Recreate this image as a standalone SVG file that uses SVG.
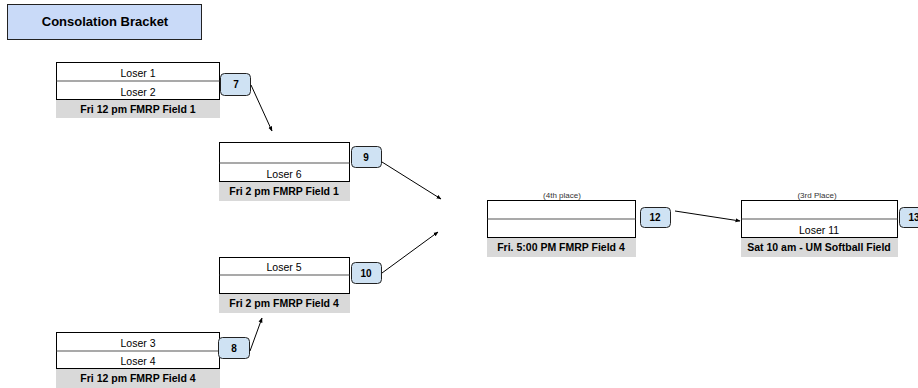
<svg xmlns="http://www.w3.org/2000/svg" width="918" height="388" viewBox="0 0 918 388">
<style>
text{font-family:"Liberation Sans",Arial,sans-serif;fill:#000}
.box{fill:#fff;stroke:#000;stroke-width:1}
.div{stroke:#555;stroke-width:1.2}
.lab{fill:#d9d9d9;stroke:none}
.t{font-size:10.5px;text-anchor:middle}
.b{font-size:10.5px;font-weight:bold;text-anchor:middle}
.s{font-size:8px;text-anchor:middle;fill:#333}
.badge{fill:#cfe2f3;stroke:#222;stroke-width:1}
.bt{font-size:10px;font-weight:bold;text-anchor:middle}
.con{stroke:#000;stroke-width:1;fill:none;marker-end:url(#ah)}
</style>
<defs>
<marker id="ah" viewBox="0 0 10 10" refX="9" refY="5" markerWidth="5" markerHeight="5" orient="auto" markerUnits="userSpaceOnUse">
<path d="M0,1 L10,5 L0,9 z" fill="#000"/>
</marker>
</defs>
<g id="title">
<rect x="7.5" y="4.5" width="194" height="35" fill="#c9daf8" stroke="#222" stroke-width="1"/>
<text x="105" y="26" font-size="13" font-weight="bold" text-anchor="middle">Consolation Bracket</text>
</g>
<g id="m7">
<rect class="box" x="56.5" y="62.5" width="163" height="37"/>
<line class="div" x1="56.5" y1="81" x2="219.5" y2="81"/>
<text class="t" x="138" y="77">Loser 1</text>
<text class="t" x="138" y="96">Loser 2</text>
<rect class="lab" x="56" y="100" width="164" height="18"/>
<text class="b" x="138" y="113">Fri 12 pm FMRP Field 1</text>
<rect class="badge" x="220.5" y="73.5" width="30" height="22" rx="4"/>
<text class="bt" x="236" y="88">7</text>
</g>
<g id="m9">
<rect class="box" x="219.5" y="142.5" width="130" height="39"/>
<line class="div" x1="219.5" y1="163" x2="349.5" y2="163"/>
<text class="t" x="284" y="178">Loser 6</text>
<rect class="lab" x="219" y="182" width="131" height="19"/>
<text class="b" x="284" y="195">Fri 2 pm FMRP Field 1</text>
<rect class="badge" x="351.5" y="146.5" width="30" height="21" rx="4"/>
<text class="bt" x="366" y="161">9</text>
</g>
<g id="m10">
<rect class="box" x="219.5" y="257.5" width="130" height="36"/>
<line class="div" x1="219.5" y1="275" x2="349.5" y2="275"/>
<text class="t" x="284" y="271">Loser 5</text>
<rect class="lab" x="219" y="294" width="131" height="19"/>
<text class="b" x="284" y="307">Fri 2 pm FMRP Field 4</text>
<rect class="badge" x="351.5" y="262.5" width="30" height="21" rx="4"/>
<text class="bt" x="366" y="277">10</text>
</g>
<g id="m8">
<rect class="box" x="56.5" y="332.5" width="163" height="36"/>
<line class="div" x1="56.5" y1="351" x2="219.5" y2="351"/>
<text class="t" x="138" y="347">Loser 3</text>
<rect class="lab" x="56" y="369" width="164" height="19"/>
<text class="t" x="138" y="365">Loser 4</text>
<text class="b" x="138" y="382">Fri 12 pm FMRP Field 4</text>
<rect class="badge" x="218.5" y="337.5" width="31" height="21" rx="4"/>
<text class="bt" x="234" y="352">8</text>
</g>
<g id="m12">
<text class="s" x="562" y="198">(4th place)</text>
<rect class="box" x="487.5" y="200.5" width="148" height="37"/>
<line class="div" x1="487.5" y1="219" x2="635.5" y2="219"/>
<rect class="lab" x="487" y="238" width="149" height="19"/>
<text class="b" x="561" y="251">Fri. 5:00 PM FMRP Field 4</text>
<rect class="badge" x="640.5" y="207.5" width="30" height="20" rx="4"/>
<text class="bt" x="655" y="221">12</text>
</g>
<g id="m13">
<text class="s" x="817" y="198">(3rd Place)</text>
<rect class="box" x="741.5" y="200.5" width="156" height="37"/>
<line class="div" x1="741.5" y1="219" x2="897.5" y2="219"/>
<text class="t" x="819" y="234">Loser 11</text>
<rect class="lab" x="741" y="238" width="157" height="19"/>
<text class="b" x="819" y="251">Sat 10 am - UM Softball Field</text>
<rect class="badge" x="899.5" y="207.5" width="30" height="20" rx="4"/>
<text class="bt" x="914" y="221">13</text>
</g>
<g id="connectors">
<line class="con" x1="251" y1="85" x2="272" y2="131"/>
<line class="con" x1="382" y1="162" x2="441" y2="199"/>
<line class="con" x1="382" y1="273" x2="438" y2="232"/>
<line class="con" x1="250" y1="351" x2="262" y2="318"/>
<line class="con" x1="675" y1="211" x2="740" y2="221"/>
</g>
</svg>
